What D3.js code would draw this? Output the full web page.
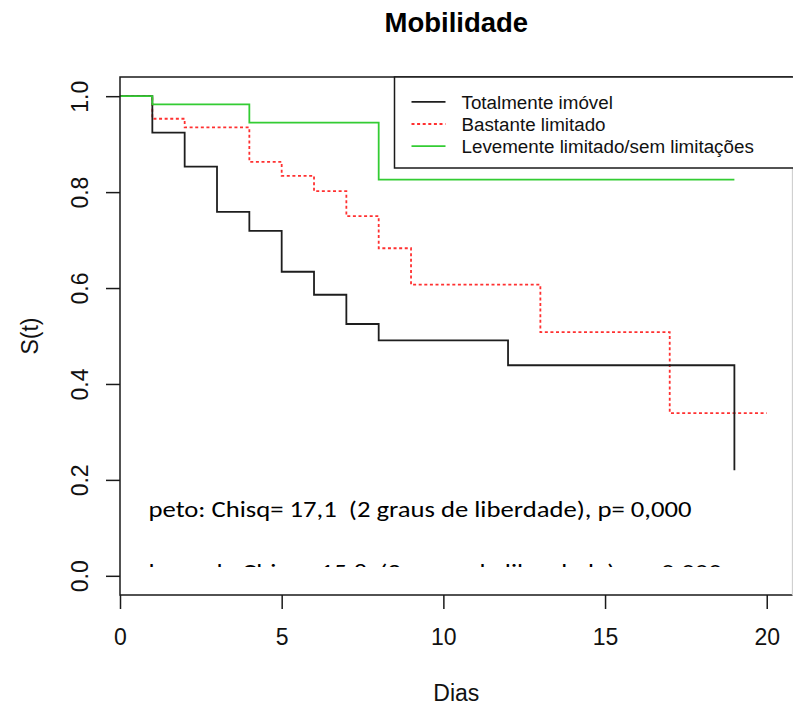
<!DOCTYPE html>
<html>
<head>
<meta charset="utf-8">
<script src="https://cdn.jsdelivr.net/npm/d3@7"></script>
<style>
  html, body { margin: 0; padding: 0; background: #fff; }
  svg { display: block; }
</style>
</head>
<body>
<svg id="chart" width="793" height="710"></svg>
<script>
// ---------------- data ----------------
const title = "Mobilidade";
const xLabel = "Dias";
const yLabel = "S(t)";
const xTicks = [0, 5, 10, 15, 20];
const yTicks = [0.0, 0.2, 0.4, 0.6, 0.8, 1.0];

const seriesNames = ["Totalmente imóvel", "Bastante limitado", "Levemente limitado/sem limitações"];

const timesTotal = [0, 1, 2, 3, 4, 5, 6, 7, 8, 12, 19];
const survTotal  = [1.0, 0.924, 0.853, 0.759, 0.719, 0.634, 0.586, 0.525, 0.491, 0.439, 0.220];

const timesBastante = [0, 1, 2, 4, 5, 6, 7, 8, 9, 13, 17, 20];
const survBastante  = [1.0, 0.953, 0.935, 0.863, 0.834, 0.802, 0.750, 0.683, 0.607, 0.508, 0.339, 0.339];

const timesLeve = [0, 1, 4, 8, 19];
const survLeve  = [1.0, 0.983, 0.945, 0.826, 0.826];

const testLines = [
  "peto: Chisq= 17,1  (2 graus de liberdade), p= 0,000",
  "logrank: Chisq= 15,8  (2 graus de liberdade), p= 0,000"
];

// ---------------- layout ----------------
const svg = d3.select("#chart");
const W = 793, H = 710;
svg.append("rect").attr("width", W).attr("height", H).attr("fill", "#fff");

const plotL = 120, plotR = 792.6, plotT = 77, plotB = 595;
const x = d3.scaleLinear().domain([0, 20.8]).range([plotL, plotR]);
const y = d3.scaleLinear().domain([-0.04, 1.04]).range([plotB, plotT]);

const axisFont = "'Liberation Sans', Arial, Helvetica, sans-serif";
const ink = "#1a1a1a";

const defs = svg.append("defs");
defs.append("clipPath").attr("id", "plotClip")
  .append("rect").attr("x", plotL).attr("y", plotT).attr("width", plotR - plotL).attr("height", plotB - plotT);
defs.append("clipPath").attr("id", "textClip")
  .append("rect").attr("x", 0).attr("y", 0).attr("width", W).attr("height", 567);

// ---------------- curves ----------------
const series = [
  { name: seriesNames[0], t: timesTotal, s: survTotal, color: "#1e1e1e", dash: null },
  { name: seriesNames[1], t: timesBastante, s: survBastante, color: "#ff3030", dash: "3,2.6" },
  { name: seriesNames[2], t: timesLeve, s: survLeve, color: "#33cc33", dash: null }
];

const line = d3.line().curve(d3.curveStepAfter).x(d => x(d[0])).y(d => y(d[1]));
const gCurves = svg.append("g").attr("clip-path", "url(#plotClip)");
[series[1], series[0], series[2]].forEach(se => {
  gCurves.append("path")
    .datum(se.t.map((t, i) => [t, se.s[i]]))
    .attr("d", line)
    .attr("fill", "none")
    .attr("stroke", se.color)
    .attr("stroke-width", 1.8)
    .attr("stroke-dasharray", se.dash);
});

// ---------------- box ----------------
svg.append("path")
  .attr("d", `M${plotR},${plotT}H${plotL}V${plotB}H${plotR}`)
  .attr("fill", "none").attr("stroke", ink).attr("stroke-width", 1.5);
svg.append("line")
  .attr("x1", plotR).attr("x2", plotR).attr("y1", plotT).attr("y2", plotB)
  .attr("stroke", "#d0d0d0").attr("stroke-width", 1.5);

// ---------------- axes ----------------
const xAxis = svg.append("g")
  .attr("transform", `translate(0,${plotB})`)
  .call(d3.axisBottom(x).tickValues(xTicks).tickFormat(d3.format("d")).tickSize(14).tickSizeOuter(0).tickPadding(20));
xAxis.select(".domain").remove();
xAxis.selectAll(".tick line").attr("stroke", ink).attr("stroke-width", 1.5);
xAxis.selectAll(".tick text")
  .attr("font-family", axisFont).attr("font-size", 23).attr("fill", "#111");

const yAxis = svg.append("g")
  .attr("transform", `translate(${plotL},0)`)
  .call(d3.axisLeft(y).tickValues(yTicks).tickFormat(d3.format(".1f")).tickSize(14).tickSizeOuter(0));
yAxis.select(".domain").remove();
yAxis.selectAll(".tick line").attr("stroke", ink).attr("stroke-width", 1.5);
yAxis.selectAll(".tick text")
  .attr("font-family", axisFont).attr("font-size", 23).attr("fill", "#111")
  .attr("x", null)
  .attr("text-anchor", "middle")
  .attr("transform", "translate(-40,0) rotate(-90)")
  .attr("dy", "0.35em");

// ---------------- titles ----------------
svg.append("text")
  .attr("x", (plotL + plotR) / 2).attr("y", 32)
  .attr("text-anchor", "middle")
  .attr("font-family", axisFont).attr("font-weight", "bold").attr("font-size", 27.5)
  .attr("fill", "#000")
  .text(title);

svg.append("text")
  .attr("x", (plotL + plotR) / 2).attr("y", 701)
  .attr("text-anchor", "middle")
  .attr("font-family", axisFont).attr("font-size", 23).attr("fill", "#111")
  .text(xLabel);

svg.append("text")
  .attr("transform", `translate(38,${(plotT + plotB) / 2}) rotate(-90)`)
  .attr("text-anchor", "middle")
  .attr("font-family", axisFont).attr("font-size", 23).attr("fill", "#111")
  .text(yLabel);

// ---------------- legend ----------------
const lg = svg.append("g");
lg.append("rect")
  .attr("x", 394.5).attr("y", plotT).attr("width", 420).attr("height", 91)
  .attr("fill", "#fff").attr("stroke", ink).attr("stroke-width", 1.5);
series.forEach((se, i) => {
  const cy = 101.8 + i * 22.2;
  lg.append("line")
    .attr("x1", 411.5).attr("x2", 445.5).attr("y1", cy).attr("y2", cy)
    .attr("stroke", se.color).attr("stroke-width", 1.8)
    .attr("stroke-dasharray", se.dash);
  lg.append("text")
    .attr("x", 461.5).attr("y", cy).attr("dy", "0.36em")
    .attr("font-family", axisFont).attr("font-size", 18.8).attr("fill", "#111")
    .text(se.name);
});

// ---------------- test annotation ----------------
const annFont = "Carlito, Calibri, Lato, 'Open Sans', sans-serif";
const gAnn = svg.append("g").attr("clip-path", "url(#textClip)");
const annTexts = testLines.map((s, i) =>
  gAnn.append("text")
    .attr("x", 148.5).attr("y", 517 + i * 63)
    .attr("font-family", annFont).attr("font-size", 22).attr("fill", "#000")
    .style("white-space", "pre")
    .attr("xml:space", "preserve")
    .text(s)
);
const natural0 = annTexts[0].node().getComputedTextLength();
const factor = 543 / natural0;
annTexts.forEach(t => {
  const n = t.node().getComputedTextLength();
  t.attr("textLength", n * factor).attr("lengthAdjust", "spacingAndGlyphs");
});
</script>
</body>
</html>
